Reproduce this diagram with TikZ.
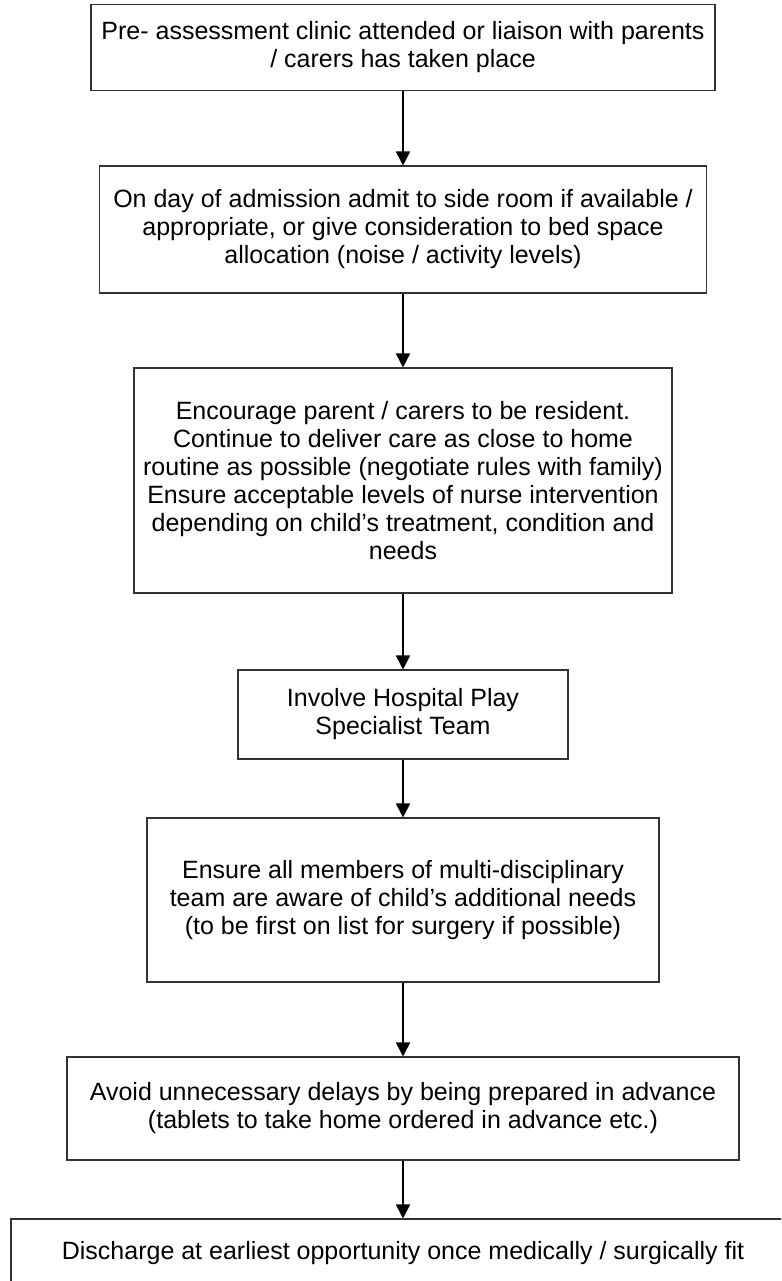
\documentclass[tikz,border=0pt]{standalone}
\usepackage{fontspec}
\setmainfont{Liberation Sans}
\usetikzlibrary{arrows.meta}
\begin{document}
\begin{tikzpicture}[x=1pt,y=-1pt,
  stepbox/.style={draw=black!80,line width=1.1pt,align=center,inner sep=0pt,
    font=\fontsize{25}{28}\selectfont,fill=white},
  arr/.style={draw=black,line width=1.8pt,-{Triangle[length=14pt,width=14pt]}}]
\useasboundingbox (0,0) rectangle (781,1281);
\clip (0,0) rectangle (781,1281);
\fill[white] (0,0) rectangle (781,1281);
\node[stepbox,minimum width=624pt,minimum height=86pt] (b1) at (403,47.5)
  {Pre- assessment clinic attended or liaison with parents\\/ carers has taken place};
\node[stepbox,minimum width=607pt,minimum height=127pt] (b2) at (403,229.5)
  {On day of admission admit to side room if available /\\appropriate, or give consideration to bed space\\allocation (noise / activity levels)};
\node[stepbox,minimum width=538pt,minimum height=225pt] (b3) at (403,480.5)
  {Encourage parent / carers to be resident.\\Continue to deliver care as close to home\\routine as possible (negotiate rules with family)\\Ensure acceptable levels of nurse intervention\\depending on child’s treatment, condition and\\needs};
\node[stepbox,minimum width=330pt,minimum height=89pt] (b4) at (403,714.5)
  {Involve Hospital Play\\Specialist Team};
\node[stepbox,minimum width=512pt,minimum height=164pt] (b5) at (403,900)
  {Ensure all members of multi-disciplinary\\team are aware of child’s additional needs\\(to be first on list for surgery if possible)};
\node[stepbox,minimum width=672pt,minimum height=103pt] (b6) at (403,1108.5)
  {Avoid unnecessary delays by being prepared in advance\\(tablets to take home ordered in advance etc.)};
\node[stepbox,minimum width=784pt,minimum height=68pt] (b7) at (403,1253)
  {Discharge at earliest opportunity once medically / surgically fit};
\draw[arr] (b1.south) -- (b2.north);
\draw[arr] (b2.south) -- (b3.north);
\draw[arr] (b3.south) -- (b4.north);
\draw[arr] (b4.south) -- (b5.north);
\draw[arr] (b5.south) -- (b6.north);
\draw[arr] (b6.south) -- (b7.north);
\end{tikzpicture}
\end{document}
